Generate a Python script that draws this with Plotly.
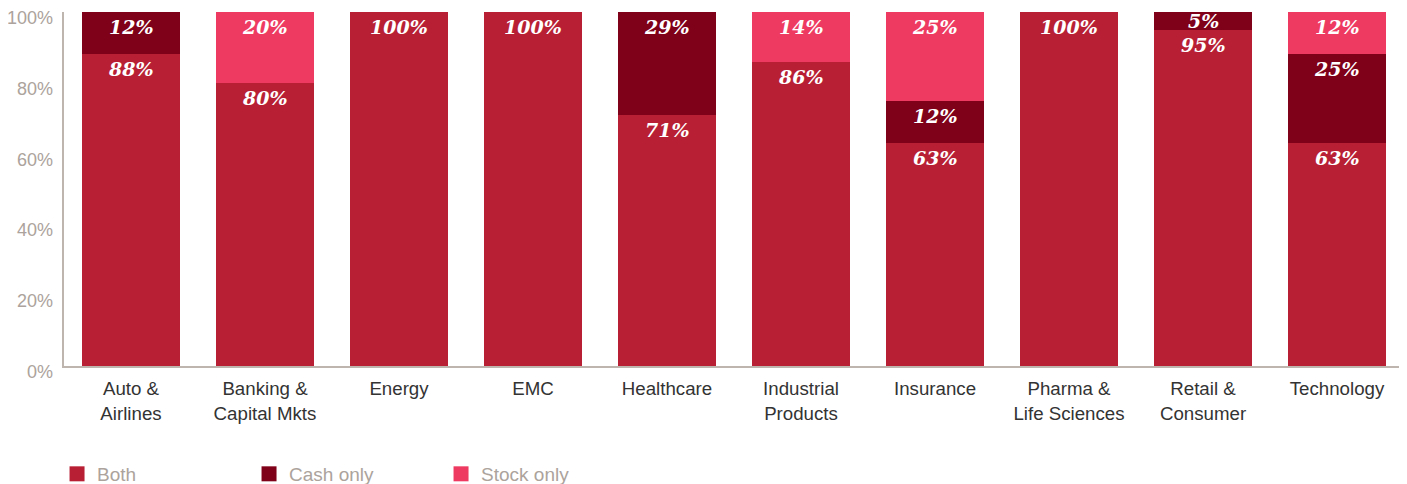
import plotly.graph_objects as go

categories = ["Auto &<br>Airlines", "Banking &<br>Capital Mkts", "Energy", "EMC", "Healthcare",
              "Industrial<br>Products", "Insurance", "Pharma &<br>Life Sciences", "Retail &<br>Consumer", "Technology"]
both = [88, 80, 100, 100, 71, 86, 63, 100, 95, 63]
cash_only = [12, 0, 0, 0, 29, 0, 12, 0, 5, 25]
stock_only = [0, 20, 0, 0, 0, 14, 25, 0, 0, 12]
y_ticks = [0, 20, 40, 60, 80, 100]

series = [("Both", both, "#B81F34"), ("Cash only", cash_only, "#7F0019"), ("Stock only", stock_only, "#EE3A61")]

fig = go.Figure()
for name, vals, color in series:
    fig.add_trace(go.Bar(
        x=categories, y=vals, name=name, marker=dict(color=color, line=dict(width=0)),
        hoverinfo="skip", showlegend=False, legendgroup=name,
    ))
# legend keys (larger squares than the default bar swatch)
for name, vals, color in series:
    fig.add_trace(go.Scatter(
        x=[None], y=[None], mode="markers", name=name, legendgroup=name,
        marker=dict(symbol="square", size=15, color=color, line=dict(width=0)),
        hoverinfo="skip", showlegend=True,
    ))

# value labels at the top of each segment (small segments: centred)
annotations = []
base = [0] * len(categories)
for name, vals, color in series:
    for i, v in enumerate(vals):
        if v > 0:
            top = base[i] + v
            if v >= 10:
                annotations.append(dict(x=categories[i], y=top, yanchor="top", yshift=-2, text=f"{v}%",
                                        showarrow=False))
            else:
                annotations.append(dict(x=categories[i], y=base[i] + v / 2, yanchor="middle", text=f"{v}%",
                                        showarrow=False))
            base[i] = top
for a in annotations:
    a.update(xref="x", yref="y", xanchor="center",
             font=dict(family="DejaVu Serif", size=19, color="white", style="italic", weight="bold"))

# y tick labels, set slightly below their tick as in the original
for v in y_ticks:
    annotations.append(dict(xref="paper", x=0, xanchor="right", xshift=-9, yref="y", y=v,
                            yanchor="middle", yshift=-6, text=f"{v}%", showarrow=False,
                            font=dict(size=18, color="#ACA39C")))

fig.update_layout(
    barmode="stack", bargap=0.276,
    width=1407, height=484,
    margin=dict(l=56, r=11, t=4, b=126, autoexpand=False),
    plot_bgcolor="white", paper_bgcolor="white",
    font=dict(family="Liberation Sans, Arial, sans-serif"),
    annotations=annotations,
    xaxis=dict(showline=True, linecolor="#BDB5AE", linewidth=2, showgrid=False, ticks="",
               ticklabelstandoff=5, automargin=False,
               tickfont=dict(size=18.7, color="#333333"), range=[-0.5, 9.5]),
    yaxis=dict(range=[0, 100], tickvals=y_ticks, showticklabels=False,
               showline=True, linecolor="#BDB5AE", linewidth=2, showgrid=False, zeroline=False,
               ticks="", automargin=False),
    legend=dict(orientation="h", x=-0.0052, xanchor="left", y=-0.305, yanchor="middle",
                font=dict(size=19, color="#ACA39C"), entrywidth=147, entrywidthmode="pixels",
                traceorder="normal", itemwidth=30),
    showlegend=True,
)

fig.write_html("out.html")
